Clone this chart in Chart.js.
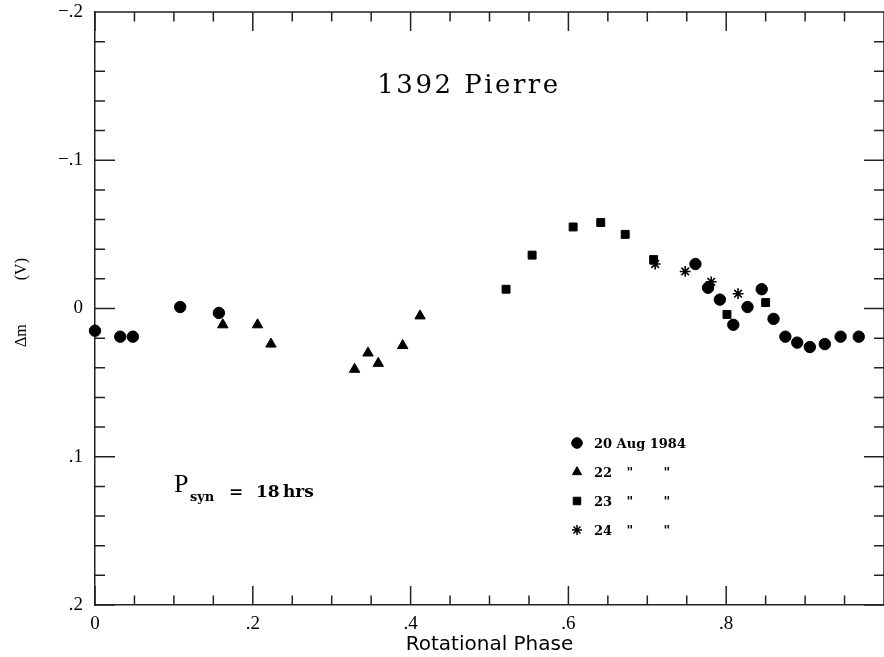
<!DOCTYPE html>
<html>
<head>
<meta charset="utf-8">
<script src="https://cdn.jsdelivr.net/npm/chart.js@4.4.0/dist/chart.umd.min.js"></script>
<style>
html,body{margin:0;padding:0;background:#fff;}
canvas{display:block;}
</style>
</head>
<body>
<canvas id="c" width="884" height="657"></canvas>
<script>
// ---- data ----
const phase20 = [0.000, 0.032, 0.048, 0.108, 0.157, 0.761, 0.777, 0.792, 0.809, 0.827, 0.845, 0.860, 0.875, 0.890, 0.906, 0.925, 0.945, 0.968];
const dm20    = [0.015, 0.019, 0.019, -0.001, 0.003, -0.030, -0.014, -0.006, 0.011, -0.001, -0.013, 0.007, 0.019, 0.023, 0.026, 0.024, 0.019, 0.019];

const phase22 = [0.162, 0.206, 0.223, 0.329, 0.346, 0.359, 0.390, 0.412];
const dm22    = [0.011, 0.011, 0.024, 0.041, 0.030, 0.037, 0.025, 0.005];

const phase23 = [0.521, 0.554, 0.606, 0.641, 0.672, 0.708, 0.801, 0.850];
const dm23    = [-0.013, -0.036, -0.055, -0.058, -0.050, -0.033, 0.004, -0.004];

const phase24 = [0.710, 0.748, 0.781, 0.815];
const dm24    = [-0.030, -0.025, -0.018, -0.010];

const seriesLabels = ['20 Aug 1984', '22', '23', '24'];
const xTickValues = [0, 0.2, 0.4, 0.6, 0.8];
const xTickLabels = ['0', '.2', '.4', '.6', '.8'];
const yTickValues = [-0.2, -0.1, 0, 0.1, 0.2];
const yTickLabels = ['\u2212.2', '\u2212.1', '0', '.1', '.2'];
const xMinorStep = 0.05;
const yMinorStep = 0.02;

const titleText = '1392 Pierre';
const xTitle = 'Rotational Phase';
const yTitle = '   \u0394m           (V)';

// ---- helpers ----
const toPts = (xs, ys) => xs.map((v, i) => ({x: v, y: ys[i]}));
const noPad = s => { s.paddingLeft = 0; s.paddingRight = 0; s.paddingTop = 0; s.paddingBottom = 0; };

const frameTicks = {
  id: 'frameTicks',
  afterDraw(chart) {
    const {ctx, chartArea: a, scales: {x, y}} = chart;
    ctx.save();
    ctx.strokeStyle = '#222';
    ctx.lineWidth = 1.5;
    ctx.beginPath();
    ctx.moveTo(a.left, a.top); ctx.lineTo(a.right, a.top); ctx.lineTo(a.right, a.bottom);
    const nx = Math.round((x.max - x.min) / xMinorStep);
    for (let i = 0; i <= nx; i++) {
      const v = x.min + i * xMinorStep;
      const px = x.getPixelForValue(v);
      const L = (i % 4 === 0) ? 19 : 9.5;
      ctx.moveTo(px, a.bottom); ctx.lineTo(px, a.bottom - L);
      ctx.moveTo(px, a.top); ctx.lineTo(px, a.top + L);
    }
    const ny = Math.round((y.max - y.min) / yMinorStep);
    for (let i = 0; i <= ny; i++) {
      const v = y.min + i * yMinorStep;
      const py = y.getPixelForValue(v);
      const L = (i % 5 === 0) ? 20 : 10;
      ctx.moveTo(a.left, py); ctx.lineTo(a.left + L, py);
      ctx.moveTo(a.right, py); ctx.lineTo(a.right - L, py);
    }
    ctx.stroke();
    ctx.restore();
  }
};

function marker(ctx, style, r, cx, cy) {
  ctx.save();
  ctx.fillStyle = '#000'; ctx.strokeStyle = '#000';
  if (Chart.helpers && Chart.helpers.drawPoint) {
    ctx.lineWidth = style === 'star' ? 1.5 : 1;
    Chart.helpers.drawPoint(ctx, {pointStyle: style, radius: r, rotation: 0, borderWidth: ctx.lineWidth}, cx, cy);
  } else {
    ctx.beginPath(); ctx.arc(cx, cy, r, 0, Math.PI * 2); ctx.fill();
  }
  ctx.restore();
}

const annotations = {
  id: 'annotations',
  afterDraw(chart) {
    const ctx = chart.ctx;
    ctx.save();
    ctx.fillStyle = '#000';
    // title
    ctx.font = '26px "DejaVu Serif"';
    ctx.letterSpacing = '2.5px';
    ctx.textAlign = 'center';
    ctx.textBaseline = 'alphabetic';
    ctx.fillText(titleText, 469, 93);
    ctx.letterSpacing = '0px';
    ctx.textAlign = 'left';
    // P_syn = 18 hrs
    ctx.font = '26px "Liberation Serif"';
    ctx.fillText('P', 174, 492);
    ctx.font = 'bold 13px "DejaVu Serif"';
    ctx.fillText('syn', 190, 501);
    ctx.font = 'bold 17px "DejaVu Serif"';
    ctx.fillText('=', 229, 497);
    ctx.fillText('18', 256, 497);
    ctx.fillText('hrs', 283, 497);
    // legend
    const rows = [443, 472, 501, 530];
    const styles = ['circle', 'triangle', 'rect', 'star'];
    const radii = [5.3, 5.3, 5.3, 5];
    ctx.font = 'bold 13px "DejaVu Serif"';
    rows.forEach((ry, i) => {
      marker(ctx, styles[i], radii[i], 577, ry);
      ctx.fillStyle = '#000';
      ctx.textAlign = 'left';
      ctx.fillText(seriesLabels[i], 594, ry + 4.5);
      if (i > 0) {
        ctx.textAlign = 'center';
        ctx.fillText('"', 630, ry + 4.5);
        ctx.fillText('"', 667, ry + 4.5);
      }
    });
    ctx.restore();
  }
};

const ptBase = {showLine: false, backgroundColor: '#000', borderColor: '#000', borderWidth: 1, clip: false};

new Chart(document.getElementById('c'), {
  type: 'scatter',
  data: {
    datasets: [
      Object.assign({label: seriesLabels[0], data: toPts(phase20, dm20), pointStyle: 'circle', pointRadius: 5.7}, ptBase),
      Object.assign({label: seriesLabels[1], data: toPts(phase22, dm22), pointStyle: 'triangle', pointRadius: 6}, ptBase),
      Object.assign({label: seriesLabels[2], data: toPts(phase23, dm23), pointStyle: 'rect', pointRadius: 5.6}, ptBase),
      Object.assign({}, ptBase, {label: seriesLabels[3], data: toPts(phase24, dm24), pointStyle: 'star', pointRadius: 5.4, borderWidth: 1.6})
    ]
  },
  options: {
    responsive: false,
    animation: false,
    devicePixelRatio: 1,
    layout: {autoPadding: false, padding: {left: 0, top: 12, right: -5, bottom: 0}},
    plugins: {legend: {display: false}, tooltip: {enabled: false}},
    scales: {
      x: {
        type: 'linear', position: 'bottom', min: 0, max: 1,
        afterBuildTicks: s => { s.ticks = xTickValues.map(v => ({value: v})); },
        afterFit: s => { s.height = 52; noPad(s); },
        ticks: {
          callback: (v, i) => xTickLabels[i],
          font: {family: 'Liberation Serif', size: 19}, color: '#000',
          padding: 8, maxRotation: 0, autoSkip: false
        },
        grid: {display: true, drawOnChartArea: false, drawTicks: false},
        border: {display: true, color: '#222', width: 1.5},
        title: {display: true, text: xTitle, color: '#000',
                font: {family: 'DejaVu Sans', size: 20}, padding: {top: 0, bottom: 0}}
      },
      y: {
        type: 'linear', position: 'left', min: -0.2, max: 0.2, reverse: true,
        afterBuildTicks: s => { s.ticks = yTickValues.map(v => ({value: v})); },
        afterFit: s => { s.width = 95; noPad(s); },
        ticks: {
          callback: (v, i) => yTickLabels[i],
          font: {family: 'Liberation Serif', size: 19}, color: '#000',
          padding: 12, autoSkip: false
        },
        grid: {display: true, drawOnChartArea: false, drawTicks: false},
        border: {display: true, color: '#222', width: 1.5},
        title: {display: true, text: yTitle, color: '#000',
                font: {family: 'Liberation Serif', size: 16}, padding: {top: 12, bottom: 0}}
      }
    }
  },
  plugins: [frameTicks, annotations]
});
</script>
</body>
</html>
